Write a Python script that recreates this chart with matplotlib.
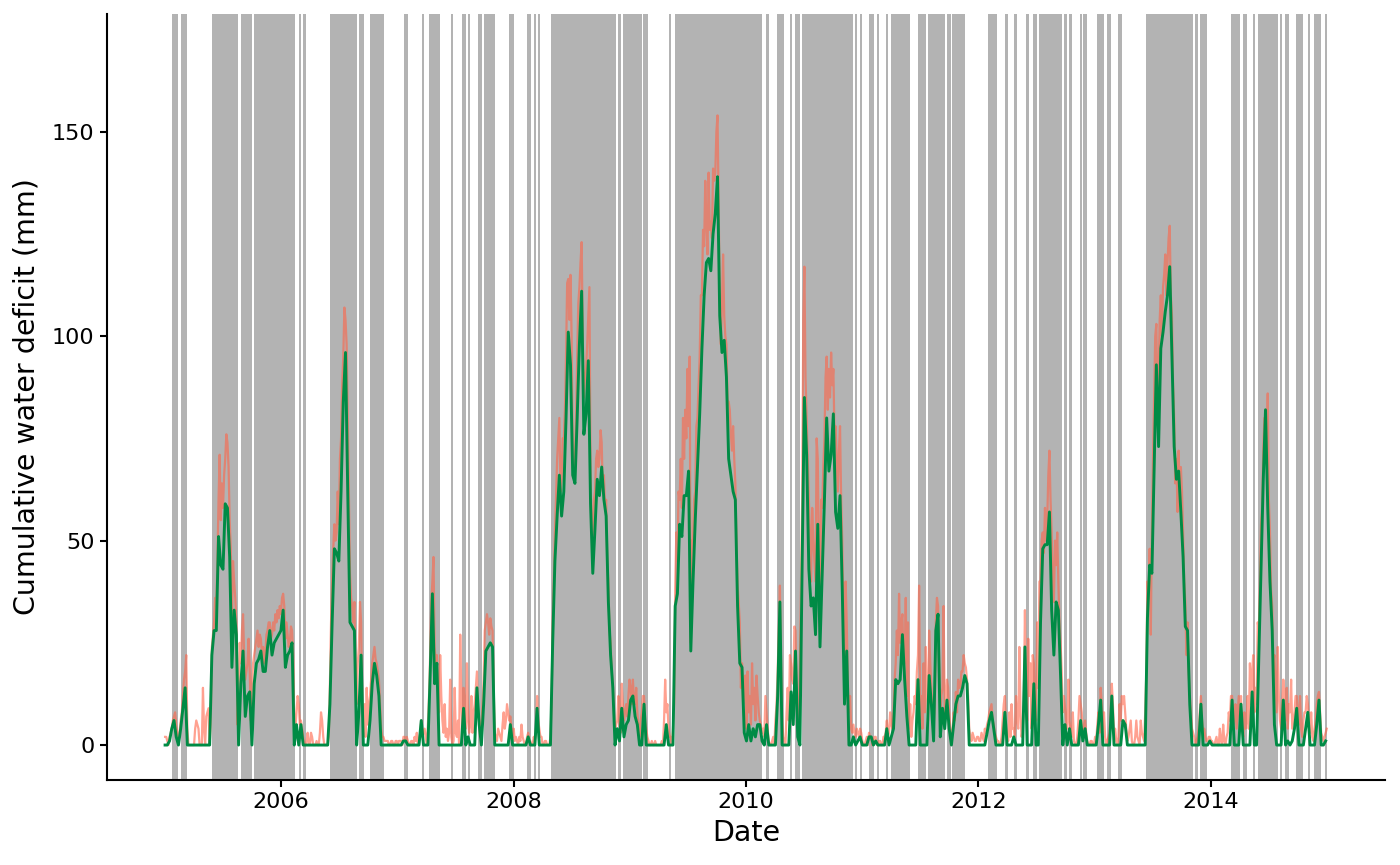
import pandas as pd
import matplotlib
matplotlib.use("Agg")
import matplotlib.pyplot as plt

start = pd.Timestamp("2005-01-01")
end = pd.Timestamp("2014-12-31")

# weekly deficit (mm), one value per week from 2005-01-01
weekly_deficit = [
    # 2005
    0, 0, 1, 4, 6, 2, 0, 4, 9, 14,
    0, 0, 0, 0, 0, 0, 0, 0, 0, 0,
    0, 22, 28, 28, 51, 44, 43, 59, 58, 46,
    19, 33, 27, 0, 15, 23, 7, 12, 13, 0,
    15, 20, 21, 23, 18, 18, 24, 28, 22, 25,
    26, 27,
    # 2006
    28, 33, 19, 22, 23, 25, 0, 5, 0, 5,
    0, 0, 0, 0, 0, 0, 0, 0, 0, 0,
    0, 0, 10, 30, 48, 47, 45, 62, 84, 96,
    62, 30, 29, 28, 0, 8, 22, 0, 0, 0,
    6, 15, 20, 17, 12, 0, 0, 0, 0, 0,
    0, 0,
    # 2007
    0, 0, 0, 1, 1, 0, 0, 0, 0, 0,
    0, 6, 0, 0, 0, 17, 37, 15, 20, 0,
    0, 0, 0, 0, 0, 0, 0, 0, 0, 0,
    9, 0, 2, 0, 0, 0, 14, 5, 0, 10,
    23, 24, 25, 24, 0, 0, 0, 0, 0, 0,
    0, 5,
    # 2008
    0, 0, 0, 0, 0, 0, 0, 2, 0, 0,
    0, 9, 0, 0, 0, 0, 0, 0, 25, 45,
    56, 66, 56, 62, 80, 101, 93, 66, 64, 80,
    98, 111, 76, 81, 94, 59, 42, 53, 65, 61,
    68, 60, 56, 35, 22, 14, 0, 4, 1, 9,
    2, 5,
    # 2009
    6, 11, 12, 7, 5, 0, 0, 10, 0, 0,
    0, 0, 0, 0, 0, 0, 0, 5, 0, 0,
    0, 34, 37, 54, 51, 61, 61, 67, 23, 40,
    55, 68, 81, 97, 110, 118, 119, 116, 125, 130,
    139, 105, 96, 99, 90, 70, 66, 62, 60, 34,
    20, 19, 3,
    # 2010
    1, 5, 1, 4, 2, 5, 5, 1, 0, 5,
    0, 0, 0, 0, 12, 35, 0, 0, 0, 0,
    13, 5, 23, 2, 0, 45, 85, 71, 43, 34,
    36, 27, 54, 24, 42, 60, 80, 67, 71, 81,
    57, 53, 61, 38, 10, 23, 0, 0, 2, 0,
    1, 2,
    # 2011
    0, 0, 0, 2, 2, 0, 1, 0, 0, 0,
    0, 4, 0, 2, 4, 16, 15, 16, 27, 16,
    7, 0, 0, 0, 0, 16, 0, 0, 0, 0,
    17, 10, 1, 28, 32, 2, 9, 4, 11, 4,
    0, 5, 10, 12, 12, 14, 17, 15, 0, 0,
    0, 0,
    # 2012
    0, 0, 0, 0, 3, 6, 8, 4, 0, 0,
    0, 0, 8, 0, 0, 0, 2, 0, 0, 0,
    0, 24, 0, 0, 0, 15, 0, 0, 30, 48,
    49, 49, 57, 33, 22, 35, 33, 17, 0, 5,
    0, 4, 0, 0, 0, 0, 6, 1, 4, 0,
    0, 0,
    # 2013
    0, 0, 5, 11, 0, 0, 0, 0, 12, 0,
    0, 0, 0, 6, 5, 0, 0, 0, 0, 0,
    0, 0, 0, 0, 31, 44, 42, 68, 93, 73,
    97, 101, 106, 110, 117, 95, 73, 65, 67, 57,
    46, 29, 28, 10, 0, 0, 0, 0, 10, 0,
    0, 0,
    # 2014
    1, 0, 0, 0, 0, 0, 0, 0, 0, 0,
    11, 0, 0, 0, 10, 0, 0, 0, 0, 13,
    0, 0, 22, 45, 65, 82, 58, 40, 28, 5,
    0, 0, 0, 11, 0, 1, 0, 1, 4, 9,
    0, 0, 0, 4, 8, 0, 0, 0, 5, 11,
    0, 0, 1,
]

# raw deficit (mm), two readings per week
raw_deficit = [
    # 2005
    2, 2, 1, 0, 2, 3, 4, 6, 7, 8, 5, 3, 1, 3, 6, 8, 12, 16, 18, 22,
    4, 0, 0, 0, 0, 0, 0, 4, 6, 5, 4, 0, 0, 0, 14, 4, 0, 7, 8, 9,
    0, 5, 24, 27, 30, 36, 34, 45, 60, 71, 55, 64, 58, 66, 70, 76, 74, 68, 55, 48,
    30, 45, 40, 36, 30, 5, 12, 25, 20, 28, 32, 22, 16, 18, 20, 26, 18, 6, 14, 20,
    22, 24, 26, 28, 24, 27, 26, 22, 24, 20, 22, 27, 28, 30, 30, 26, 27, 30, 28, 32,
    30, 33, 31, 34,
    # 2006
    32, 36, 37, 34, 26, 30, 27, 24, 25, 29, 28, 22, 6, 4, 8, 12, 10, 5, 6, 4,
    2, 0, 0, 1, 3, 0, 0, 3, 2, 0, 0, 0, 1, 0, 0, 3, 8, 6, 2, 0,
    0, 0, 0, 2, 15, 30, 40, 48, 54, 50, 52, 62, 54, 70, 75, 88, 95, 107, 104, 98,
    80, 62, 42, 36, 34, 30, 35, 18, 10, 20, 24, 35, 30, 10, 5, 10, 2, 14, 5, 10,
    12, 16, 20, 22, 24, 21, 20, 18, 16, 10, 4, 2, 2, 1, 1, 1, 1, 0, 0, 1,
    1, 0, 0, 1,
    # 2007
    1, 0, 1, 1, 1, 0, 2, 2, 1, 2, 1, 0, 0, 1, 1, 0, 2, 1, 3, 0,
    1, 3, 6, 2, 3, 4, 2, 0, 5, 12, 22, 35, 40, 46, 24, 20, 22, 14, 8, 22,
    12, 6, 3, 10, 2, 4, 1, 3, 16, 2, 0, 1, 14, 3, 2, 6, 0, 27, 12, 4,
    14, 10, 4, 20, 6, 3, 5, 12, 3, 8, 10, 14, 18, 8, 6, 2, 4, 10, 16, 28,
    30, 32, 30, 27, 31, 29, 28, 14, 3, 2, 1, 4, 3, 2, 1, 5, 8, 4, 6, 10,
    8, 6, 7, 4,
    # 2008
    2, 4, 1, 2, 1, 0, 2, 1, 5, 2, 1, 0, 0, 2, 3, 1, 1, 0, 0, 2,
    1, 3, 12, 6, 4, 2, 2, 0, 0, 1, 1, 0, 0, 0, 2, 10, 30, 40, 52, 60,
    70, 75, 80, 62, 65, 75, 75, 82, 95, 113, 114, 104, 115, 100, 72, 68, 70, 80, 95, 108,
    112, 118, 123, 100, 85, 90, 92, 98, 105, 112, 66, 52, 50, 60, 62, 70, 72, 68, 70, 77,
    74, 62, 66, 58, 60, 45, 40, 28, 25, 18, 15, 8, 3, 5, 6, 12, 5, 3, 15, 10,
    6, 8, 10, 7,
    # 2009
    12, 16, 14, 10, 16, 11, 10, 14, 8, 4, 2, 6, 8, 12, 12, 6, 4, 2, 1, 0,
    0, 1, 0, 0, 1, 0, 0, 0, 0, 0, 1, 0, 6, 16, 8, 10, 4, 2, 2, 0,
    4, 10, 38, 52, 45, 62, 60, 70, 58, 80, 70, 82, 75, 92, 78, 95, 25, 50, 50, 60,
    62, 78, 80, 88, 95, 110, 110, 126, 122, 138, 128, 120, 140, 126, 128, 124, 141, 138, 140, 150,
    154, 132, 110, 98, 108, 120, 105, 100, 98, 84, 84, 82, 76, 72, 78, 70, 64, 50, 39, 35,
    30, 14, 20, 10, 14, 17,
    # 2010
    4, 18, 8, 12, 5, 20, 10, 14, 6, 17, 12, 8, 6, 5, 3, 4, 2, 12, 8, 4,
    1, 0, 0, 1, 2, 0, 6, 10, 18, 28, 39, 20, 6, 2, 1, 0, 8, 14, 6, 22,
    20, 16, 15, 29, 28, 14, 6, 8, 20, 40, 60, 104, 117, 90, 80, 70, 60, 50, 40, 58,
    50, 45, 40, 75, 70, 45, 35, 60, 58, 68, 75, 90, 95, 82, 92, 85, 96, 88, 92, 76,
    78, 70, 62, 72, 78, 60, 50, 30, 20, 40, 30, 15, 8, 12, 4, 3, 5, 3, 2, 4,
    3, 2, 4, 3,
    # 2011
    1, 0, 0, 1, 2, 0, 3, 2, 2, 0, 1, 2, 2, 0, 0, 1, 1, 0, 0, 2,
    2, 3, 6, 2, 3, 8, 5, 4, 8, 16, 20, 28, 22, 37, 25, 30, 32, 20, 20, 36,
    12, 30, 4, 10, 2, 6, 8, 12, 10, 18, 22, 39, 6, 12, 4, 20, 8, 24, 12, 6,
    28, 20, 14, 6, 4, 10, 30, 36, 34, 20, 6, 12, 14, 34, 8, 10, 16, 14, 8, 4,
    2, 3, 8, 6, 13, 8, 16, 14, 14, 18, 18, 22, 20, 19, 16, 12, 4, 2, 1, 3,
    2, 1, 1, 2,
    # 2012
    2, 1, 1, 3, 2, 1, 4, 3, 5, 6, 8, 9, 10, 6, 5, 3, 2, 1, 1, 0,
    0, 2, 6, 10, 12, 4, 2, 1, 8, 2, 10, 4, 4, 2, 12, 6, 4, 24, 8, 2,
    4, 10, 33, 12, 6, 26, 12, 20, 4, 22, 20, 10, 6, 30, 14, 40, 40, 50, 52, 47,
    58, 50, 55, 66, 72, 60, 52, 40, 35, 50, 44, 52, 40, 30, 25, 18, 8, 12, 9, 6,
    4, 16, 6, 3, 2, 8, 1, 0, 0, 2, 6, 12, 10, 8, 3, 4, 6, 3, 1, 0,
    0, 1, 1, 0,
    # 2013
    0, 2, 1, 5, 8, 3, 14, 10, 4, 8, 2, 0, 1, 2, 3, 8, 15, 10, 3, 4,
    1, 0, 2, 10, 6, 12, 10, 12, 8, 4, 1, 2, 4, 6, 1, 0, 0, 2, 6, 2,
    1, 0, 6, 3, 2, 1, 8, 18, 40, 36, 48, 27, 52, 70, 85, 100, 103, 80, 90, 104,
    110, 100, 112, 115, 120, 110, 118, 124, 127, 110, 105, 88, 80, 64, 70, 57, 72, 60, 68, 62,
    52, 40, 35, 22, 30, 18, 12, 8, 4, 3, 2, 0, 1, 2, 4, 8, 12, 6, 3, 4,
    2, 1, 1, 2,
    # 2014
    2, 1, 1, 0, 0, 1, 2, 0, 0, 4, 1, 0, 5, 1, 0, 2, 3, 8, 6, 12,
    12, 5, 6, 10, 4, 8, 12, 6, 12, 4, 2, 8, 4, 6, 12, 4, 20, 10, 18, 22,
    8, 14, 10, 30, 28, 40, 54, 58, 72, 80, 80, 72, 86, 60, 52, 38, 34, 20, 22, 15,
    8, 24, 12, 6, 4, 10, 16, 12, 6, 14, 4, 10, 8, 16, 4, 6, 8, 12, 12, 8,
    5, 12, 4, 2, 6, 8, 8, 12, 10, 6, 3, 8, 2, 1, 4, 6, 10, 12, 13, 8,
    3, 2, 1, 2, 3, 4,
]

# grey periods, days since 2005-01-01
band_start = [23, 51, 148, 240, 280, 422, 434, 519, 610, 645, 752, 808, 830,
              900, 934, 953, 984, 1003, 1081, 1138, 1160, 1172, 1213, 1424,
              1440, 1503, 1585, 1603, 1888, 1923, 1964, 1980, 2002, 2169,
              2184, 2212, 2238, 2266, 2282, 2366, 2398, 2457, 2473, 2587,
              2640, 2668, 2706, 2728, 2747, 2826, 2841, 2876, 2885, 2929,
              2959, 2994, 3083, 3237, 3253, 3351, 3388, 3419, 3435, 3504,
              3520, 3554, 3592, 3611, 3646]
band_end = [42, 69, 230, 274, 409, 428, 443, 604, 626, 689, 764, 814, 865,
            906, 947, 959, 997, 1038, 1097, 1151, 1166, 1179, 1418, 1433,
            1500, 1519, 1591, 1876, 1898, 1945, 1971, 1996, 2162, 2175,
            2191, 2228, 2244, 2272, 2341, 2391, 2451, 2470, 2514, 2615,
            2650, 2678, 2715, 2741, 2819, 2835, 2851, 2882, 2898, 2951,
            2972, 3007, 3231, 3247, 3275, 3379, 3401, 3425, 3498, 3510,
            3532, 3577, 3598, 3633, 3652]

tick_years = [2006, 2008, 2010, 2012, 2014]
y_ticks = [0, 50, 100, 150]

weekly_dates = pd.date_range(start, periods=len(weekly_deficit), freq="7D")
raw_dates = pd.date_range(start, periods=len(raw_deficit), freq="84h")

fig, ax = plt.subplots(figsize=(14, 8.65), dpi=100)
fig.subplots_adjust(left=107 / 1400, right=1385 / 1400, top=1 - 14 / 865, bottom=1 - 780 / 865)

ax.plot(raw_dates, raw_deficit, color="tomato", alpha=0.6, lw=1.6, zorder=2)
ax.plot(weekly_dates, weekly_deficit, color="#008b45", lw=2.1, zorder=3)

for s, e in zip(band_start, band_end):
    ax.axvspan(start + pd.Timedelta(days=s), start + pd.Timedelta(days=e),
               color="#b3b3b3", lw=0, zorder=0)

pad = pd.Timedelta(days=182.5)
ax.set_xlim(start - pad, end + pad)
ax.set_ylim(-8.55, 178.8)

ax.set_xticks([pd.Timestamp(f"{y}-01-01") for y in tick_years])
ax.set_xticklabels([str(y) for y in tick_years])
ax.set_yticks(y_ticks)

for side in ["top", "right"]:
    ax.spines[side].set_visible(False)
for side in ["left", "bottom"]:
    ax.spines[side].set_linewidth(1.5)
ax.tick_params(length=5, width=1.5, labelsize=16, pad=4, colors="black")

ax.set_xlabel("Date", fontsize=20.5, labelpad=5)
ax.set_ylabel("Cumulative water deficit (mm)", fontsize=20.5, labelpad=8)

fig.savefig("out.png", dpi=100)
